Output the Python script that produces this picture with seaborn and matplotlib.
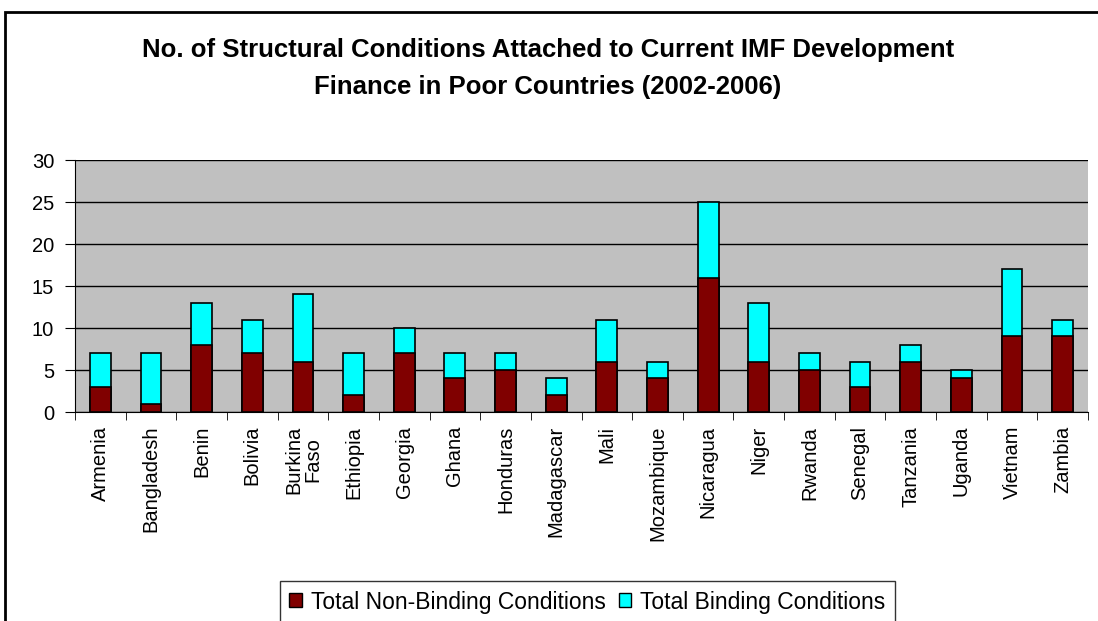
import matplotlib
matplotlib.use("Agg")
import matplotlib.pyplot as plt
import seaborn as sns
import pandas as pd
from matplotlib.patches import Rectangle, Patch
from matplotlib.ticker import FixedLocator

countries = ["Armenia", "Bangladesh", "Benin", "Bolivia", "Burkina\nFaso", "Ethiopia",
             "Georgia", "Ghana", "Honduras", "Madagascar", "Mali", "Mozambique",
             "Nicaragua", "Niger", "Rwanda", "Senegal", "Tanzania", "Uganda",
             "Vietnam", "Zambia"]
non_binding = [3, 1, 8, 7, 6, 2, 7, 4, 5, 2, 6, 4, 16, 6, 5, 3, 6, 4, 9, 9]
binding = [4, 6, 5, 4, 8, 5, 3, 3, 2, 2, 5, 2, 9, 7, 2, 3, 2, 1, 8, 2]

df = pd.DataFrame({"country": countries, "non_binding": non_binding, "binding": binding})
df["total"] = df["non_binding"] + df["binding"]

sns.set_style("white")
plt.rcParams["font.family"] = ["Liberation Sans", "DejaVu Sans"]
plt.rcParams["text.color"] = "black"
plt.rcParams["xtick.color"] = "black"
plt.rcParams["ytick.color"] = "black"

fig = plt.figure(figsize=(10.98, 6.21), dpi=100)
ax = fig.add_axes([75 / 1098, 1 - 412 / 621, 1013 / 1098, 252 / 621])

maroon = "#800000"
cyan = "#00FFFF"

# cyan = total height, maroon drawn over it
sns.barplot(data=df, x="country", y="total", color=cyan, width=0.41,
            edgecolor="black", linewidth=1.2, saturation=1, ax=ax)
sns.barplot(data=df, x="country", y="non_binding", color=maroon, width=0.41,
            edgecolor="black", linewidth=1.2, saturation=1, ax=ax)

ax.set_facecolor("#C0C0C0")
ax.set_ylim(0, 30)
ax.set_xlim(-0.5, len(countries) - 0.5)
ax.set_yticks(range(0, 31, 5))
ax.yaxis.grid(True, color="black", linewidth=1)
ax.set_axisbelow(True)
ax.set_xlabel("")
ax.set_ylabel("")
for s in ["top", "right"]:
    ax.spines[s].set_visible(False)
ax.spines["left"].set_color("black")
ax.spines["bottom"].set_color("black")
ax.tick_params(axis="y", labelsize=14.5, length=7, direction="out", left=True, pad=8)
ax.tick_params(axis="x", which="major", labelsize=14.5, length=0, rotation=90, pad=10)
ax.xaxis.set_minor_locator(FixedLocator([i - 0.5 for i in range(len(countries) + 1)]))
ax.tick_params(axis="x", which="minor", length=6, bottom=True, color="black")
for lbl in ax.get_xticklabels():
    lbl.set_linespacing(1.0)

fig.text(0.499, 1 - 50 / 621, "No. of Structural Conditions Attached to Current IMF Development",
         ha="center", va="center", fontsize=18.5, fontweight="bold")
fig.text(0.499, 1 - 87 / 621, "Finance in Poor Countries (2002-2006)",
         ha="center", va="center", fontsize=18.5, fontweight="bold")

handles = [Patch(facecolor=maroon, edgecolor="black", label="Total Non-Binding Conditions"),
           Patch(facecolor=cyan, edgecolor="black", label="Total Binding Conditions")]
fig.legend(handles=handles, loc="center", bbox_to_anchor=(0.535, 1 - 602 / 621), ncol=2,
           fontsize=16.5, frameon=True, fancybox=False, edgecolor="black",
           handlelength=0.55, handleheight=0.55, handletextpad=0.4, columnspacing=0.55,
           borderpad=0.4, borderaxespad=0)

fig.patches.append(Rectangle((5 / 1098, -0.01), 1.1, 1 - 12 / 621 + 0.01,
                             transform=fig.transFigure, fill=False,
                             edgecolor="black", linewidth=2))

fig.savefig("out.png", dpi=100)
